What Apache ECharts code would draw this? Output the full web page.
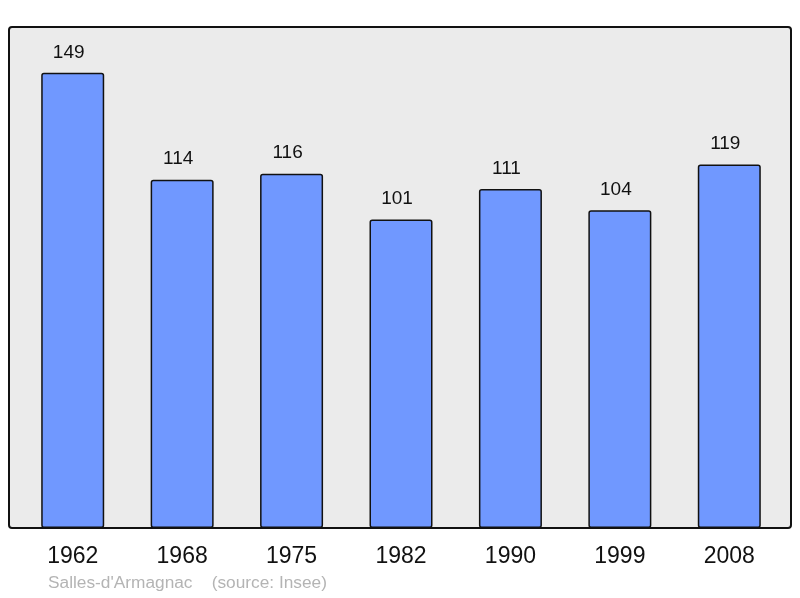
<!DOCTYPE html>
<html><head><meta charset="utf-8">
<script src="https://cdn.jsdelivr.net/npm/echarts@6/dist/echarts.min.js"></script>
<style>html,body{margin:0;padding:0;background:#fff}#c{width:800px;height:598px}</style>
</head><body><div id="c"></div>
<script>
const years = ['1962','1968','1975','1982','1990','1999','2008'];
const population = [149,114,116,101,111,104,119];
const footer = "Salles-d'Armagnac    (source: Insee)";

const chart = echarts.init(document.getElementById('c'), null, {renderer:'canvas'});
chart.setOption({
  animation:false,
  backgroundColor:'#ffffff',
  graphic:[
    {type:'rect', z:-10, shape:{x:9,y:27,width:782,height:501,r:3},
     style:{fill:'#ebebeb',stroke:'#111',lineWidth:2}},
    {type:'text', left:48, top:575, style:{text:footer, fill:'#b4b4b4', font:'17.3px "Liberation Sans", Arial, sans-serif'}}
  ],
  grid:{left:18,width:766,top:27,height:501,containLabel:false},
  xAxis:{type:'category',data:years,
    axisLine:{show:false},axisTick:{show:false},
    axisLabel:{margin:17,color:'#111',fontSize:23,fontFamily:'"Liberation Sans", Arial, sans-serif'}},
  yAxis:{type:'value',min:0,max:164,show:false,splitLine:{show:false}},
  series:[{type:'bar',data:population,barWidth:63,
    itemStyle:{color:'#7098ff',borderColor:'#111',borderWidth:1.5,borderRadius:2},
    label:{show:true,position:'top',distance:11,offset:[-4,0],color:'#111',fontSize:19,
      fontFamily:'"Liberation Sans", Arial, sans-serif'}}]
});
</script></body></html>
